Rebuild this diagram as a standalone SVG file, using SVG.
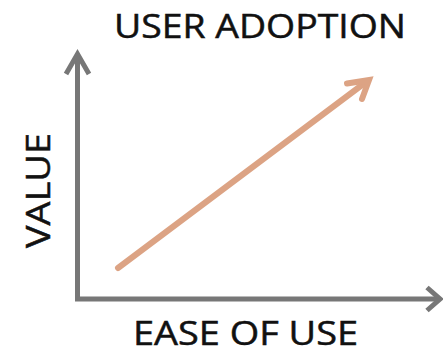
<svg xmlns="http://www.w3.org/2000/svg" width="443" height="349" viewBox="0 0 443 349">
  <style>
    .label { font-family: "Open Sans", "Liberation Sans", sans-serif; font-size: 33px; fill: #111; stroke: #111; stroke-width: 0.5; }
    .axis { fill: none; stroke: #777777; stroke-width: 5; stroke-linecap: butt; stroke-linejoin: miter; }
    .trend { fill: none; stroke: #dca384; stroke-width: 6; stroke-linecap: round; stroke-linejoin: miter; }
  </style>
  <rect width="443" height="349" fill="#ffffff"/>
  <g id="connectors">
    <!-- axes -->
    <polyline class="axis" points="77.5,55 77.5,299 440,299"/>
    <polyline class="axis" points="66,74 77.5,54 89,74"/>
    <polyline class="axis" points="427,287.5 440,299 427,310.5"/>
    <!-- rising trend -->
    <line class="trend" x1="118" y1="268" x2="366" y2="82"/>
    <polyline class="trend" points="347,83.5 369,80 362,99"/>
  </g>
  <g id="title">
    <text class="label" x="260" y="37.5" text-anchor="middle" textLength="292" lengthAdjust="spacingAndGlyphs">USER ADOPTION</text>
  </g>
  <g id="x-label">
    <text class="label" x="245.5" y="345" text-anchor="middle" textLength="225" lengthAdjust="spacingAndGlyphs">EASE OF USE</text>
  </g>
  <g id="y-label">
    <text class="label" transform="translate(50,190.5) rotate(-90)" x="0" y="0" text-anchor="middle" textLength="115" lengthAdjust="spacingAndGlyphs">VALUE</text>
  </g>
</svg>
